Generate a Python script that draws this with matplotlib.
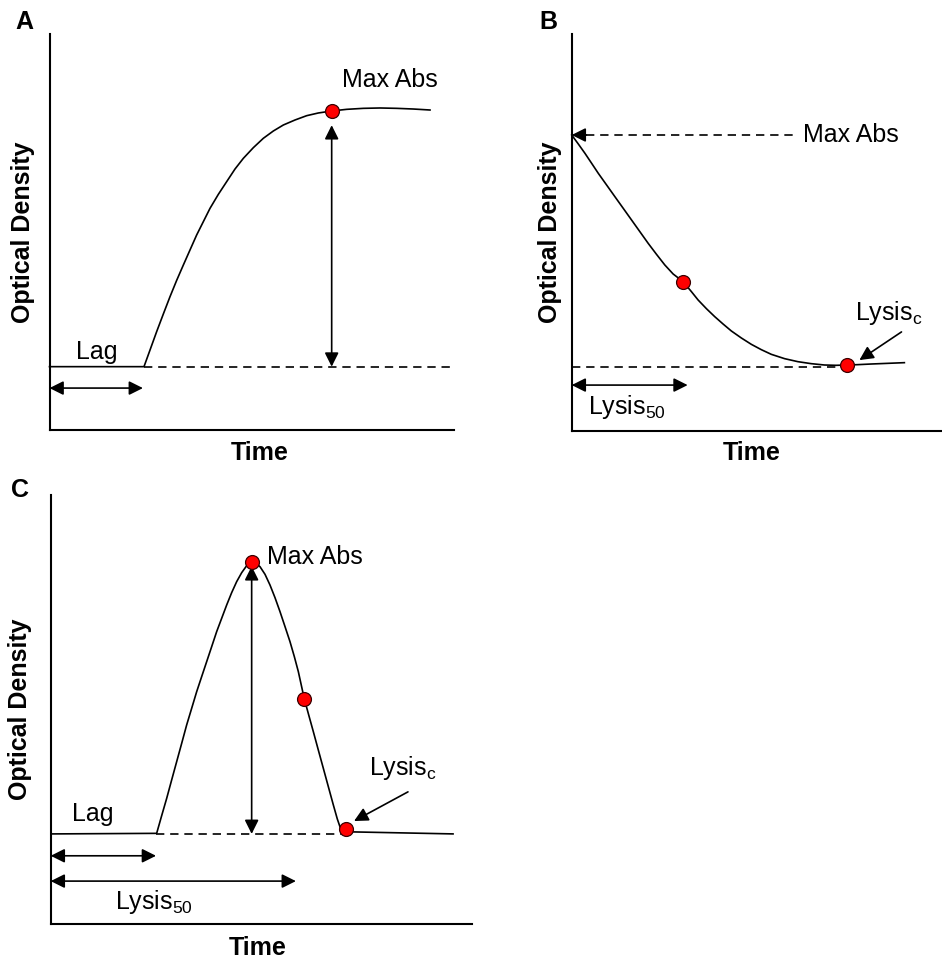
import numpy as np
import matplotlib.pyplot as plt

plt.rcParams['font.family'] = ['Liberation Sans', 'DejaVu Sans']
plt.rcParams['mathtext.default'] = 'regular'

# panel A: growth curve (time, optical density in arbitrary units 0-100)
a_time = [0, 23.36, 24.85, 26.49, 28.14, 29.79, 31.44, 33.09, 34.73, 36.38, 38.03, 39.68, 41.74,
          43.80, 45.86, 47.92, 50.39, 52.86, 55.34, 57.81, 60.69, 63.58, 66.46, 69.76, 73.47,
          77.59, 81.71, 85.83, 89.95, 94.07]
a_od = [16.10, 16.10, 20.30, 24.93, 29.38, 33.75, 37.87, 41.74, 45.52, 49.31, 52.67, 56.03, 59.56,
        62.76, 65.95, 68.64, 71.33, 73.69, 75.54, 77.05, 78.31, 79.40, 80.08, 80.58, 81.00,
        81.25, 81.34, 81.25, 81.08, 80.83]
a_base = 16.1
a_lag = 23.4
a_max = (69.76, 80.58)

# panel B: lysis curve
b_time = [0, 1.79, 3.59, 5.40, 7.20, 9.45, 11.70, 13.95, 16.21, 18.46, 20.71, 22.96, 25.22, 27.47,
          30.17, 32.42, 34.23, 36.48, 38.73, 40.98, 43.24, 45.94, 48.64, 51.34, 54.05, 57.65,
          61.25, 64.86, 68.46, 71.61, 74.59, 77.47, 81.07, 85.58, 90.08]
b_od = [74.54, 72.27, 69.92, 67.40, 64.88, 61.94, 58.99, 56.06, 53.11, 50.17, 47.23, 44.46, 41.77,
        39.50, 37.57, 35.05, 32.95, 30.76, 28.75, 26.90, 25.13, 23.37, 21.77, 20.43, 19.25, 18.16,
        17.40, 16.90, 16.56, 16.48, 16.56, 16.65, 16.81, 16.98, 17.15]
b_base = 16.1
b_pts_t = [30.17, 74.59]
b_pts_od = [37.57, 16.56]
b_lysis50 = 31.4

# panel C: growth then lysis
c_time = [0.5, 25.15, 26.34, 27.53, 28.71, 29.90, 31.09, 32.27, 33.46, 34.65, 35.83, 37.02, 38.21,
          39.39, 40.58, 41.77, 42.95, 44.14, 45.33, 46.52, 47.70, 48.73, 49.68, 50.87, 52.05,
          53.24, 54.43, 55.62, 56.80, 57.83, 58.78, 60.20, 61.31, 62.34, 63.52, 64.71, 65.90,
          67.09, 68.03, 69.06, 95.5]
c_od = [21.0, 21.13, 25.25, 29.29, 33.57, 37.84, 42.11, 46.39, 50.27, 54.16, 57.65, 61.15, 64.65,
        68.14, 71.25, 74.36, 77.23, 79.80, 81.89, 83.53, 84.30, 84.07, 83.29, 81.51, 79.02,
        76.07, 72.80, 69.31, 65.81, 62.32, 58.82, 52.45, 48.48, 44.83, 40.56, 36.29, 32.01,
        27.74, 24.48, 21.52, 21.0]
c_base = 21.0
c_pts_t = [47.7, 60.2, 70.1]
c_pts_od = [84.3, 52.45, 22.1]
c_lag = 25.0
c_lysis50 = 58.2

W, H = 942, 961


def box(l, t, r, b):
    return [l / W, 1 - b / H, (r - l) / W, (b - t) / H]


def setup(ax):
    ax.set_xlim(0, 100)
    ax.set_ylim(0, 100)
    for s in ['top', 'right']:
        ax.spines[s].set_visible(False)
    for s in ['left', 'bottom']:
        ax.spines[s].set_linewidth(1.5)
    ax.set_xticks([])
    ax.set_yticks([])


def darrow(ax, p0, p1, style='<|-|>'):
    ax.annotate('', xy=p1, xytext=p0,
                arrowprops=dict(arrowstyle=style + ',head_length=0.7,head_width=0.35',
                                color='black', lw=1.2, shrinkA=0, shrinkB=0,
                                mutation_scale=12), annotation_clip=False)


dash = (0, (5, 3.5))
lw = 1.2
mk = dict(ls='none', marker='o', ms=10, mfc='#ff0000', mec='#3a0000', mew=0.9, zorder=5, clip_on=False)
fs = 18
lfs = 18

fig = plt.figure(figsize=(9.42, 9.61), dpi=100)

# ---- A
ax = fig.add_axes(box(49.5, 34, 454, 430.5))
setup(ax)
ax.plot(a_time, a_od, color='black', lw=lw, clip_on=False)
ax.plot([a_lag, 100], [a_base, a_base], color='black', lw=lw, ls=dash, clip_on=False)
ax.plot([a_max[0]], [a_max[1]], **mk)
darrow(ax, (a_max[0], a_base), (a_max[0], 77.0))
darrow(ax, (0, 10.7), (a_lag - 0.3, 10.7))
ax.text(11.8, 19.8, 'Lag', ha='center', va='center', fontsize=fs)
ax.text(84.2, 88.4, 'Max Abs', ha='center', va='center', fontsize=fs)
ax.text(-0.066, 0.5, 'Optical Density', transform=ax.transAxes, rotation=90,
        ha='center', va='center', fontsize=lfs, fontweight='bold')
ax.text(0.52, -0.057, 'Time', transform=ax.transAxes, ha='center', va='center',
        fontsize=lfs, fontweight='bold')

# ---- B
ax = fig.add_axes(box(571.7, 34, 941, 430.7))
setup(ax)
ax.plot(b_time, b_od, color='black', lw=lw, clip_on=False)
ax.plot([0, 74], [b_base, b_base], color='black', lw=lw, ls=dash, clip_on=False)
ax.plot(b_pts_t, b_pts_od, **mk)
ax.plot([4, 61.2], [b_od[0], b_od[0]], color='black', lw=lw, ls=dash)
darrow(ax, (4, b_od[0]), (0, b_od[0]), style='-|>')
ax.text(62.5, b_od[0], 'Max Abs', ha='left', va='center', fontsize=fs)
darrow(ax, (0, 11.5), (b_lysis50, 11.5))
ax.text(4.4, 6.0, 'Lysis$_{50}$', ha='left', va='center', fontsize=fs)
ax.text(76.8, 29.7, 'Lysis$_{c}$', ha='left', va='center', fontsize=fs)
darrow(ax, (89.3, 24.9), (77.9, 17.8), style='-|>')
ax.text(-0.0586, 0.5, 'Optical Density', transform=ax.transAxes, rotation=90,
        ha='center', va='center', fontsize=lfs, fontweight='bold')
ax.text(0.487, -0.057, 'Time', transform=ax.transAxes, ha='center', va='center',
        fontsize=lfs, fontweight='bold')

# ---- C
ax = fig.add_axes(box(50.7, 495, 472, 924))
setup(ax)
ax.plot(c_time, c_od, color='black', lw=lw, clip_on=False)
ax.plot([c_lag, 69.1], [c_base, c_base], color='black', lw=lw, ls=dash)
ax.plot(c_pts_t, c_pts_od, **mk)
darrow(ax, (c_pts_t[0], c_base), (c_pts_t[0], 83.4))
darrow(ax, (0, 15.9), (c_lag, 15.9))
darrow(ax, (0, 10.0), (c_lysis50, 10.0))
ax.text(10.0, 25.6, 'Lag', ha='center', va='center', fontsize=fs)
ax.text(51.3, 85.5, 'Max Abs', ha='left', va='center', fontsize=fs)
ax.text(75.5, 36.4, 'Lysis$_{c}$', ha='left', va='center', fontsize=fs)
darrow(ax, (84.8, 30.8), (72.0, 24.0), style='-|>')
ax.text(15.3, 5.1, 'Lysis$_{50}$', ha='left', va='center', fontsize=fs)
ax.text(-0.073, 0.5, 'Optical Density', transform=ax.transAxes, rotation=90,
        ha='center', va='center', fontsize=lfs, fontweight='bold')
ax.text(0.492, -0.056, 'Time', transform=ax.transAxes, ha='center', va='center',
        fontsize=lfs, fontweight='bold')

# panel letters
for lab, x, y in [('A', 24, 22), ('B', 548, 22), ('C', 20, 490)]:
    fig.text(x / W, 1 - y / H, lab, ha='center', va='center', fontsize=18, fontweight='bold')

fig.savefig('out.png', dpi=100)
